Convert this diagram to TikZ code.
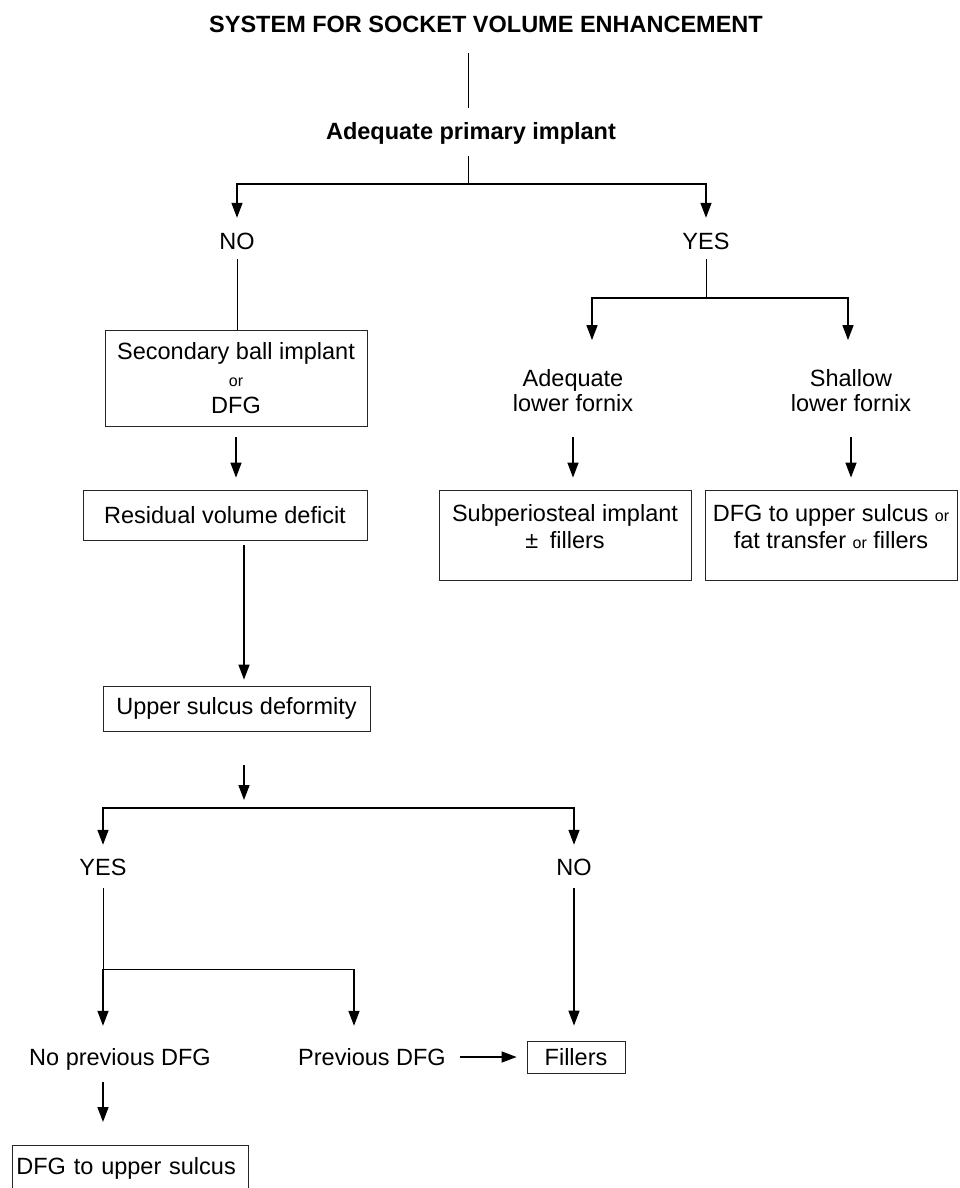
\documentclass[tikz,border=0pt]{standalone}
\usepackage{fontspec}
\setmainfont{Liberation Sans}
\usetikzlibrary{arrows.meta, positioning}
\newcommand{\chico}{\fontsize{16}{18}\selectfont}
\tikzset{
    texto/.style={inner sep=0pt, font=\fontsize{23.5}{27}\selectfont, text height=17pt, text depth=5pt},
    textoM/.style={inner sep=0pt, font=\fontsize{23.5}{27}\selectfont, align=center},
    caja/.style={draw=black!85, line width=0.8pt, inner sep=0pt, font=\fontsize{23.5}{27}\selectfont, align=center},
    linea/.style={-, line width=0.9pt},
    rama/.style={-, line width=1.5pt},
    flecha/.style={-{Triangle[length=15pt,width=11pt]}, line width=1.5pt},
}

\begin{document}
\begin{tikzpicture}[x=1pt, y=-1pt]
    \useasboundingbox (0,0) rectangle (959,1188);
    \clip (0,0) rectangle (959,1188);

    \node[texto, font=\fontsize{23.5}{27}\selectfont\bfseries] (titulo) at (486,26.4) {SYSTEM FOR SOCKET VOLUME ENHANCEMENT};
    \node[texto, font=\fontsize{23.5}{27}\selectfont\bfseries] (adecuado) at (471,133.4) {Adequate primary implant};
    \node[texto] (no1) at (237,243.4) {NO};
    \node[texto] (si1) at (706,243.4) {YES};

    % rama izquierda
    \node[caja, minimum width=262pt, minimum height=96pt] (secund) at (236,378) {Secondary ball implant\\ {\chico or}\\ DFG};
    \node[caja, minimum width=284pt, minimum height=50pt] (residual) at (225,515) {Residual volume deficit};
    \node[caja, minimum width=267pt, minimum height=45pt] (surco) at (236.5,708.5) {Upper sulcus deformity};
    \node[texto] (si2) at (103,869.4) {YES};
    \node[texto] (no2) at (574,869.4) {NO};
    \node[texto] (noprev) at (120,1059.4) {No previous DFG};
    \node[texto] (prev) at (372,1059.4) {Previous DFG};
    \node[caja, minimum width=98pt, minimum height=32pt] (relleno) at (576,1057) {Fillers};
    \node[caja, anchor=north west, inner xsep=4pt, text width=228pt, align=left, minimum height=46pt] (dfgsup) at (12,1145) {DFG to upper sulcus};

    % rama derecha
    \node[textoM] (adecfornix) at (573,390.4) {Adequate\\[-2pt] lower fornix};
    \node[textoM] (superf) at (851,390.4) {Shallow\\[-2pt] lower fornix};
    \node[caja, minimum width=252pt, minimum height=90pt] (subper) at (565,535) {Subperiosteal implant\\ ±\enspace fillers\rule[-18pt]{0pt}{0pt}};
    \node[caja, minimum width=252pt, minimum height=90pt] (dfgder) at (831,535) {DFG to upper sulcus {\chico or}\\ fat transfer {\chico or} fillers\rule[-18pt]{0pt}{0pt}};

    \coordinate (j1) at (468,184);
    \coordinate (j2) at (706,298);
    \coordinate (j2a) at (592,298);
    \coordinate (j2b) at (848,298);
    \coordinate (j3) at (244,808);
    \coordinate (j4) at (103,969);
    \coordinate (j4b) at (354,969);

    \draw[linea, shorten <=15.6pt, shorten >=14.4pt] (titulo.south -| j1) -- (adecuado.north -| j1);
    \draw[linea, shorten <=11.6pt] (adecuado.south -| j1) -- (j1);
    \draw[flecha, shorten >=14.4pt] (j1) -| (no1.north);
    \draw[flecha, shorten >=14.4pt] (j1) -| (si1.north);

    \draw[linea, shorten <=4.6pt] (no1.south) -- (no1.south |- secund.north);
    \draw[flecha, shorten <=11pt, shorten >=12pt] (secund.south) -- (secund.south |- residual.north);
    \draw[flecha, shorten <=5pt, shorten >=6pt] (residual.south -| j3) -- (surco.north -| j3);
    \draw[flecha, shorten <=34pt, shorten >=8pt] (surco.south -| j3) -- (j3);
    \draw[flecha, shorten >=13.4pt] (j3) -| (si2.north);
    \draw[flecha, shorten >=13.4pt] (j3) -| (no2.north);

    \draw[linea, shorten <=7.6pt] (si2.south) -- (j4);
    \draw[linea] (j4) -- (j4b);
    \draw[flecha, shorten >=22.4pt] (j4) -- (j4 |- noprev.north);
    \draw[flecha, shorten >=22.4pt] (j4b) -- (j4b |- prev.north);
    \draw[flecha, shorten <=7.6pt, shorten >=15pt] (no2.south) -- (no2.south |- relleno.north);
    \draw[flecha, shorten <=14pt, shorten >=10pt] (prev.east |- relleno.west) -- (relleno.west);
    \draw[flecha, shorten <=11.6pt, shorten >=23pt] (j4 |- noprev.south) -- (j4 |- dfgsup.north);

    \draw[linea, shorten <=4.6pt] (si1.south) -- (j2);
    \draw[flecha, shorten >=29pt] (j2) -| (j2a |- adecfornix.north);
    \draw[flecha, shorten >=29pt] (j2) -| (j2b |- superf.north);
    \draw[flecha, shorten <=25.6pt, shorten >=12pt] (adecfornix.south) -- (adecfornix.south |- subper.north);
    \draw[flecha, shorten <=25.6pt, shorten >=12pt] (superf.south) -- (superf.south |- dfgder.north);
\end{tikzpicture}
\end{document}
